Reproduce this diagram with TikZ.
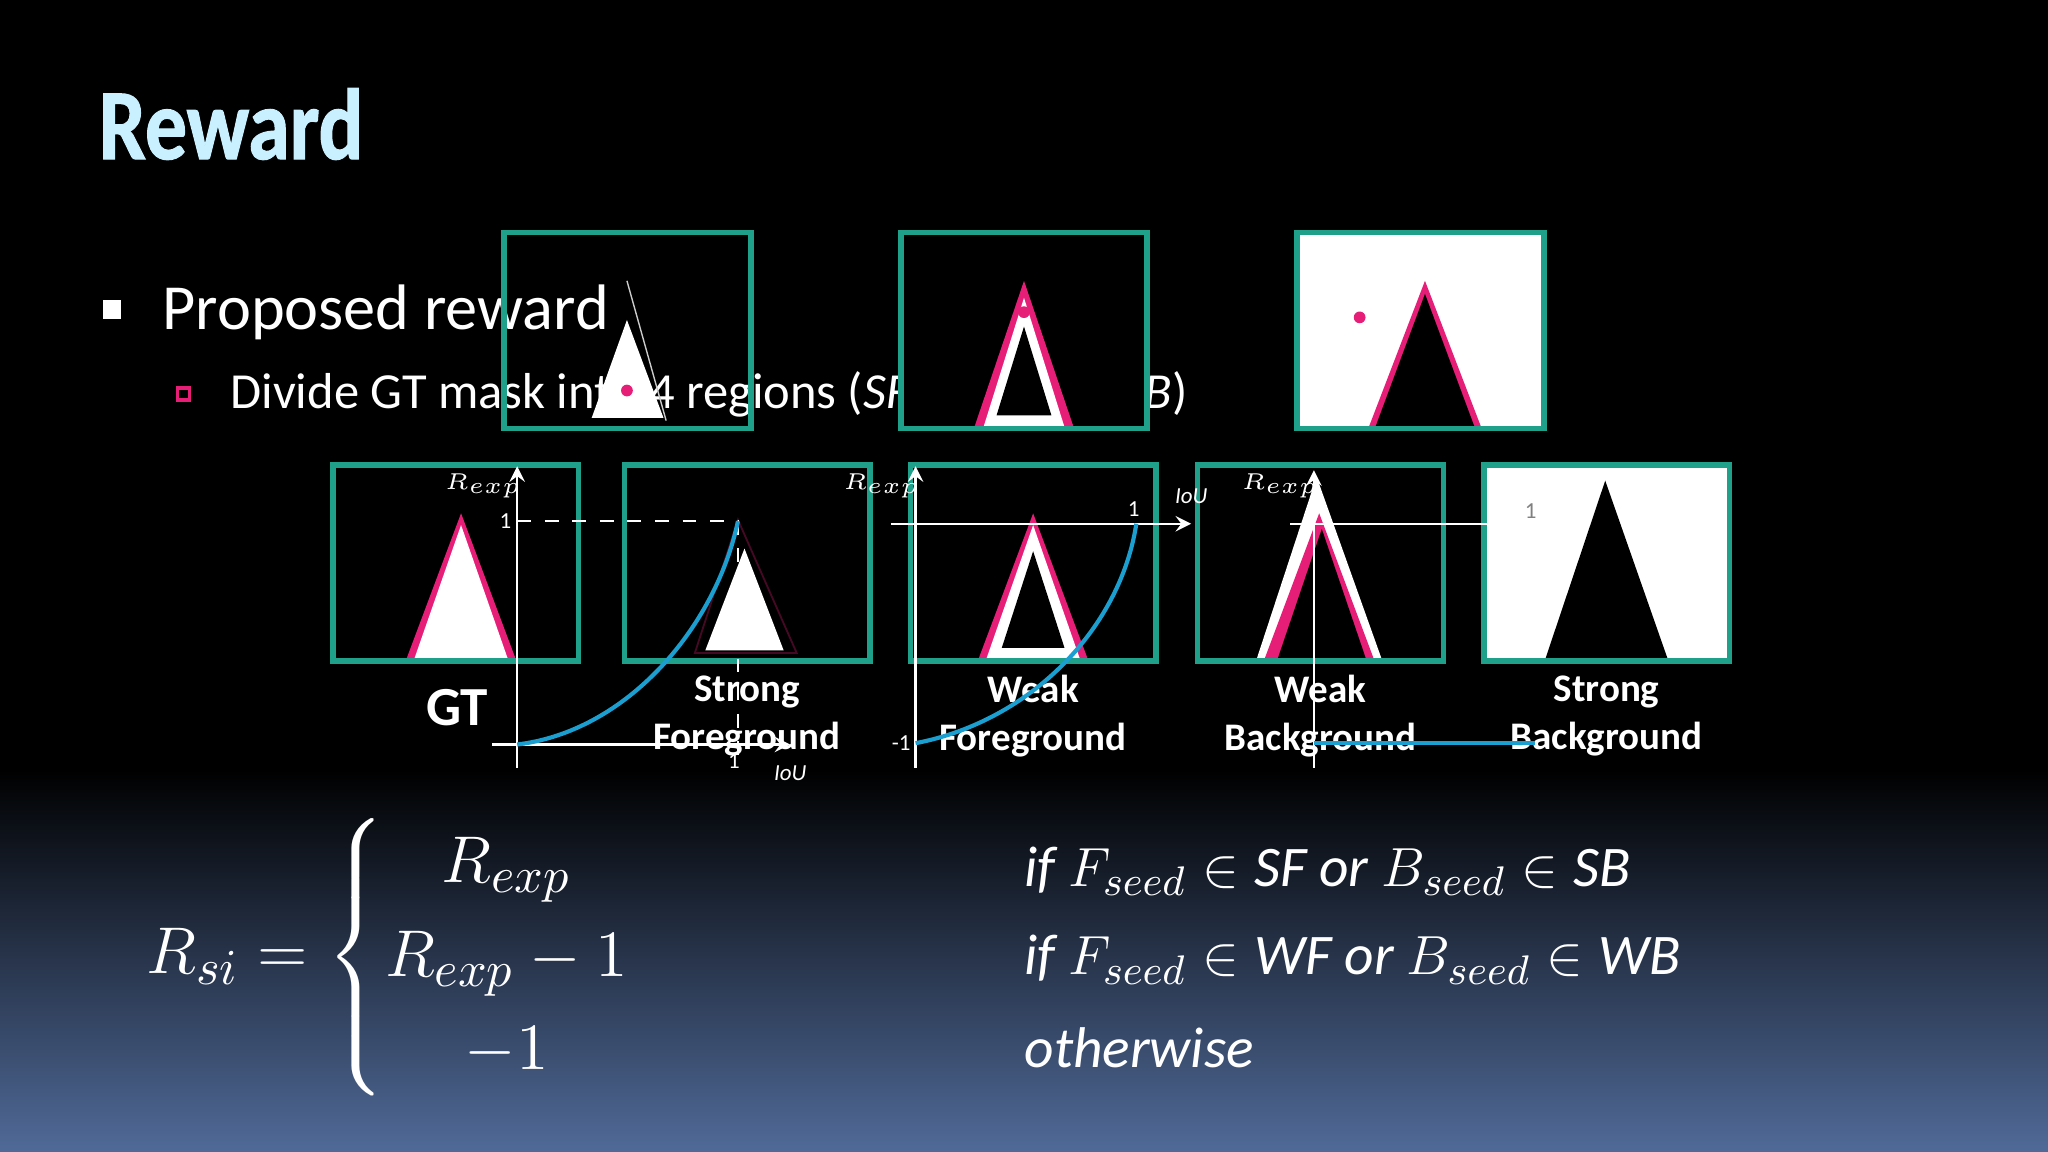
\documentclass[tikz,border=0pt]{standalone}
\usepackage{fontspec}
\setmainfont{Carlito}
\newfontfamily\titlefont[FakeStretch=0.83,FakeBold=1]{Carlito}
\usepackage{amsmath}
\definecolor{teal1}{RGB}{31,160,138}
\definecolor{pink1}{RGB}{230,30,120}
\definecolor{curveb}{RGB}{26,159,208}
\definecolor{titlec}{RGB}{200,240,255}
\definecolor{bgb}{RGB}{80,106,152}
\begin{document}
\begin{tikzpicture}[x=0.01cm,y=-0.01cm,
  box/.style={draw=teal1,line width=1.2pt},
  lab/.style={text=white,font=\fontsize{8.5}{9.5}\selectfont\bfseries,align=center},
  ax/.style={white,line width=0.5pt,-stealth},
  small/.style={text=white,font=\fontsize{5}{6}\selectfont},
  curve/.style={curveb,line width=0.9pt},
  math/.style={text=white,font=\fontsize{12.5}{14}\selectfont,anchor=west}]
\useasboundingbox (0,0) rectangle (1568,882);
\fill[black] (0,0) rectangle (1568,590);
\shade[top color=black,bottom color=bgb] (0,589) rectangle (1568,882);
\node[text=titlec,font=\fontsize{22}{26}\titlefont\bfseries,anchor=west,inner sep=0pt] (title) at (75,95) {Reward};
\fill[white] (79,230) rectangle (93,244);
\node[text=white,font=\fontsize{14}{16}\selectfont,anchor=west] (p1) at (112,239) {Proposed reward};
\draw[pink1,line width=0.8pt] (136,297) rectangle (145,306);
\node[text=white,font=\fontsize{11}{13}\selectfont,anchor=west] (p2) at (164,302) {Divide GT mask into 4 regions (\textit{SF}, \textit{WF}, \textit{WB}, \textit{SB})};
% top row
\fill[white] (480,245) -- (508,320) -- (453,320) -- cycle;
\draw[gray!40,line width=0.3pt] (480,215) -- (510,322);
\fill[pink1] (480,299) circle (4.5);
\draw[box] (386,178) rectangle (575,328);
\fill[black] (690,178) rectangle (878,328);
\fill[pink1] (784,215) -- (822,327) -- (746,327) -- cycle;
\fill[white] (784,228) -- (815,327) -- (753,327) -- cycle;
\fill[black] (784,250) -- (805,318) -- (763,318) -- cycle;
\fill[pink1] (784,239) circle (4.5);
\draw[box] (690,178) rectangle (878,328);
\fill[white] (993,178) rectangle (1182,328);
\fill[pink1] (1091,215) -- (1134,327) -- (1048,327) -- cycle;
\fill[black] (1091,225) -- (1129,327) -- (1053,327) -- cycle;
\fill[pink1] (1041,243) circle (4.5);
\draw[box] (993,178) rectangle (1182,328);
% second row
\fill[pink1] (353,393) -- (395,505) -- (311,505) -- cycle;
\fill[white] (353,402) -- (389,505) -- (317,505) -- cycle;
\draw[box] (255,356) rectangle (443,506);
\draw[black!70!pink1,line width=0.4pt] (565,398) -- (610,500) -- (532,500) -- cycle;
\fill[white] (570,420) -- (600,498) -- (540,498) -- cycle;
\draw[box] (478,356) rectangle (666,506);
\fill[pink1] (791,393) -- (833,505) -- (749,505) -- cycle;
\fill[white] (791,402) -- (827,505) -- (755,505) -- cycle;
\fill[black] (791,422) -- (815,496) -- (767,496) -- cycle;
\draw[box] (697,356) rectangle (885,506);
\fill[white] (1008,365) -- (1058,505) -- (962,505) -- cycle;
\fill[pink1] (1010,393) -- (1052,505) -- (968,505) -- cycle;
\fill[black] (1012,405) -- (1046,505) -- (978,505) -- cycle;
\draw[box] (917,356) rectangle (1105,506);
\fill[white] (1136,356) rectangle (1324,506);
\fill[black] (1229,368) -- (1277,505) -- (1183,505) -- cycle;
\draw[box] (1136,356) rectangle (1324,506);
% labels
\node[lab,font=\fontsize{12}{14}\selectfont\bfseries] (lgt) at (350,542) {GT};
\node[lab] (lsf) at (572,548) {Strong\\[1pt]Foreground};
\node[lab] (lwf) at (791,548) {Weak\\[1pt]Foreground};
\node[lab] (lwb) at (1011,548) {Weak\\[1pt]Background};
\node[lab] (lsb) at (1230,548) {Strong\\[1pt]Background};
% graph 1
\draw[ax] (396,588) -- (396,357);
\draw[ax] (377,570) -- (605,570);
\draw[white,dashed,line width=0.4pt] (396,399) -- (565,399) -- (565,585);
\draw[curve] (396,570) .. controls (480,560) and (548,480) .. (565,399);
\node[small] (r1) at (370,372) {$R_{exp}$};
\node[small] (o1) at (387,399) {1};
\node[small] (o1b) at (562,583) {1};
\node[small] (i1) at (605,592) {\itshape IoU};
% graph 2
\draw[ax] (701,588) -- (701,357);
\draw[ax] (682,401) -- (912,401);
\draw[curve] (701,569) .. controls (790,552) and (858,480) .. (870,401);
\node[small] (r2) at (675,372) {$R_{exp}$};
\node[small] (o2) at (868,390) {1};
\node[small] (i2) at (912,380) {\itshape IoU};
\node[small] (m2) at (690,569) {-1};
% graph 3
\draw[ax] (1006,588) -- (1006,360);
\draw[white,line width=0.5pt] (988,401) -- (1140,401);
\draw[curve] (1006,569) -- (1175,569);
\node[small] (r3) at (980,372) {$R_{exp}$};
\node[small,text=gray] (o3) at (1172,391) {1};
% formula
\node[text=white,font=\fontsize{15}{17}\selectfont] (rsi) at (325,733)
 {$R_{si}=\begin{cases}\hfil R_{exp} & \\ R_{exp}-1 & \\ \hfil -1 & \end{cases}$};
\node[math] (c1) at (772,667) {$\mathit{if}\ F_{seed}\in \mathit{SF}\ \mathit{or}\ B_{seed}\in \mathit{SB}$};
\node[math] (c2) at (772,735) {$\mathit{if}\ F_{seed}\in \mathit{WF}\ \mathit{or}\ B_{seed}\in \mathit{WB}$};
\node[math] (c3) at (772,802) {$\mathit{otherwise}$};
\end{tikzpicture}
\end{document}
